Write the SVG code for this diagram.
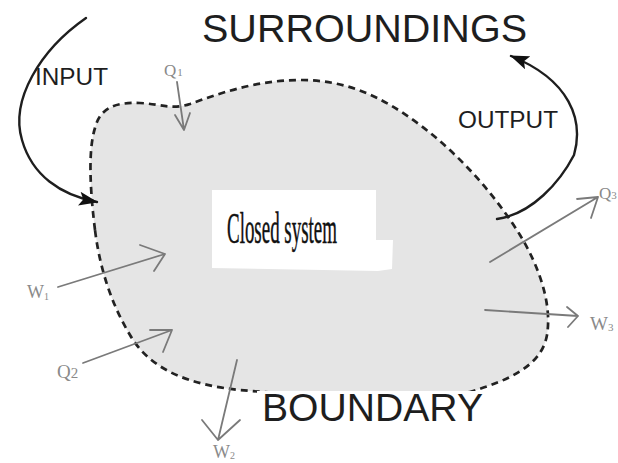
<svg xmlns="http://www.w3.org/2000/svg" width="618" height="463" viewBox="0 0 618 463">
<style>
.big{font-family:"Liberation Sans",Arial,sans-serif;fill:#1e1e1e}
.lbl{font-family:"Liberation Serif","Times New Roman",serif;fill:#8a8a8a}
.garrow{fill:none;stroke:#7a7a7a;stroke-width:1.8;stroke-linecap:round;stroke-linejoin:round}
.bigarrow{fill:none;stroke:#1e1e1e;stroke-width:2.4;stroke-linecap:round}
.boundary{fill:#e5e5e5;stroke:#222;stroke-width:2.7;stroke-dasharray:7 5}
</style>
<defs>
<marker id="head" markerUnits="userSpaceOnUse" markerWidth="20" markerHeight="14" refX="18" refY="7" orient="auto">
<path d="M0,0 L19,7 L0,14 L4,7 Z" fill="#111"/>
</marker>
</defs>
<rect width="618" height="463" fill="#fff"/>
<g id="system">
<path class="boundary" d="M95,230 C90,190 88,150 95,128 C100,108 115,102 140,103 C160,104 172,110 190,104 C215,95 255,80 300,80 C345,80 380,95 420,125 C460,155 495,195 520,235 C540,268 552,305 547,335 C542,365 510,380 470,392 C420,398 300,396 240,390 C190,385 150,370 130,335 C112,305 100,270 95,230 Z"/>
<path d="M212,190 L376,190 L376,240 L393,240 L392,269 L378,271 L212,268 Z" fill="#fff"/>
<text x="227" y="243" font-family="'Liberation Serif','Times New Roman',serif" font-size="45" fill="#111" stroke="#111" stroke-width="0.5" textLength="110" lengthAdjust="spacingAndGlyphs">Closed system</text>
</g>
<g id="boundary-label">
<rect x="257" y="391" width="228" height="40" fill="#fff"/>
<text class="big" x="262" y="421" font-size="39" textLength="221" lengthAdjust="spacingAndGlyphs">BOUNDARY</text>
</g>
<g id="surroundings">
<text class="big" x="202" y="42" font-size="38" textLength="325" lengthAdjust="spacingAndGlyphs">SURROUNDINGS</text>
</g>
<g id="input">
<text class="big" x="35" y="85" font-size="24" textLength="73" lengthAdjust="spacingAndGlyphs">INPUT</text>
</g>
<g id="output">
<text class="big" x="458" y="128" font-size="24" textLength="100" lengthAdjust="spacingAndGlyphs">OUTPUT</text>
</g>
<g id="labels">
<text class="lbl" x="164" y="76" font-size="17">Q<tspan font-size="11" dx="1">1</tspan></text>
<text class="lbl" x="27" y="298" font-size="18">W<tspan font-size="10" dx="0" dy="2">1</tspan></text>
<text class="lbl" x="57" y="378" font-size="19">Q<tspan font-size="15">2</tspan></text>
<text class="lbl" x="213" y="458" font-size="18">W<tspan font-size="10" dx="0" dy="1">2</tspan></text>
<text class="lbl" x="590" y="330" font-size="19">W<tspan font-size="11" dx="0" dy="1">3</tspan></text>
<text class="lbl" x="599" y="199" font-size="17">Q<tspan font-size="11">3</tspan></text>
</g>
<g id="connectors">
<path class="bigarrow" d="M86,18 C40,50 10,100 22,140 C32,175 60,195 97,202" marker-end="url(#head)"/>
<path class="bigarrow" d="M497,219 C532,214 560,182 574,155 C584,120 570,80 511,56" marker-end="url(#head)"/>
<path class="garrow" d="M177,82 L184,130 M175,115 L184,130 L190,113"/>
<path class="garrow" d="M58,287 L165,254 M140,245 L165,254 L154,271"/>
<path class="garrow" d="M83,363 L172,330 M150,330 L172,330 L163,352"/>
<path class="garrow" d="M237,360 L218,440 M202,420 L218,440 L240,420"/>
<path class="garrow" d="M485,310 L578,316 M567,307 L578,316 L568,327"/>
<path class="garrow" d="M490,262 L598,197 M577,199 L598,197 L591,218"/>
</g>
</svg>
